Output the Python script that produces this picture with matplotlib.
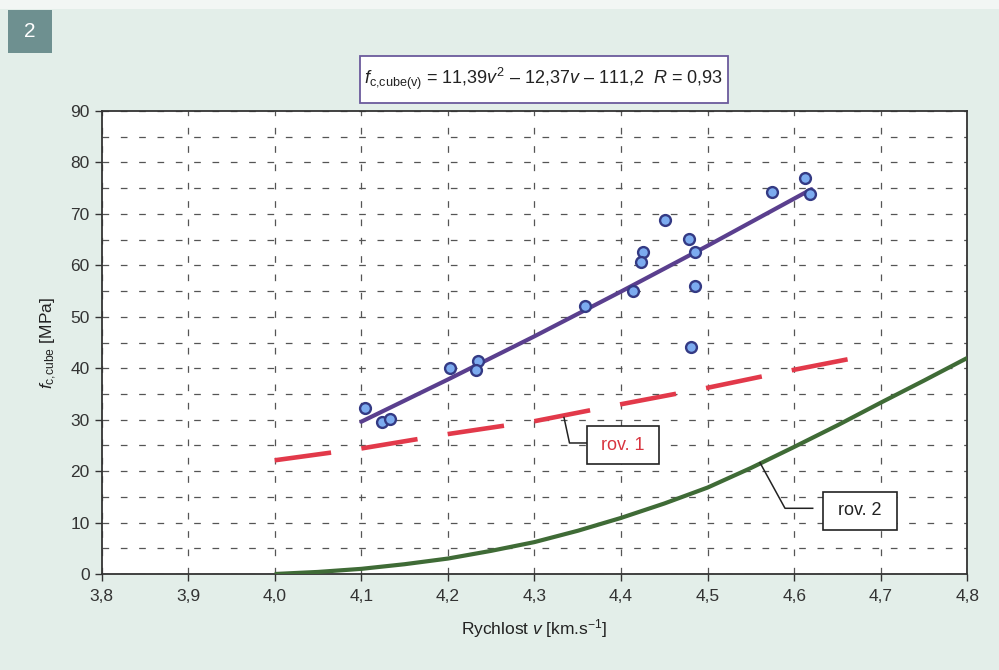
import matplotlib
matplotlib.use("Agg")
import matplotlib.pyplot as plt
from matplotlib.patches import Rectangle
from matplotlib.ticker import FuncFormatter, MultipleLocator

plt.rcParams['font.family'] = ['Liberation Sans', 'DejaVu Sans']
plt.rcParams['mathtext.fontset'] = 'custom'
plt.rcParams['mathtext.rm'] = 'Liberation Sans'
plt.rcParams['mathtext.it'] = 'Liberation Sans:italic'
plt.rcParams['mathtext.default'] = 'it'
plt.rcParams['lines.scale_dashes'] = False

# ---- data ----
meas_v = [4.104, 4.124, 4.133, 4.202, 4.235, 4.233, 4.358, 4.414, 4.425, 4.423,
          4.451, 4.479, 4.485, 4.486, 4.481, 4.575, 4.613, 4.618]
meas_f = [32.2, 29.6, 30.1, 40.0, 41.4, 39.6, 52.1, 55.0, 62.6, 60.7,
          68.9, 65.1, 62.6, 55.9, 44.1, 74.2, 77.0, 73.9]

fit_v = [4.10, 4.20, 4.30, 4.40, 4.50, 4.62]
fit_f = [29.6, 37.8, 46.2, 54.9, 63.8, 74.8]

rov1_v = [4.00, 4.10, 4.20, 4.30, 4.40, 4.50, 4.60, 4.667]
rov1_f = [22.1, 24.4, 27.2, 29.7, 33.0, 36.2, 39.7, 41.9]

rov2_v = [4.00, 4.05, 4.10, 4.15, 4.20, 4.25, 4.30, 4.35, 4.40, 4.45,
          4.50, 4.55, 4.60, 4.65, 4.70, 4.75, 4.80]
rov2_f = [0.0, 0.4, 1.0, 1.9, 3.0, 4.5, 6.2, 8.4, 10.9, 13.7,
          16.8, 20.6, 24.7, 28.9, 33.3, 37.6, 42.0]

x_ticks = [3.8, 3.9, 4.0, 4.1, 4.2, 4.3, 4.4, 4.5, 4.6, 4.7, 4.8]
y_ticks = [0, 10, 20, 30, 40, 50, 60, 70, 80, 90]

equation = (r"$f_{\mathrm{c{,}cube(v)}}$" + " = 11,39" + r"$v^{2}$" + " – 12,37" + r"$v$"
            + " – 111,2  " + r"$R$" + " = 0,93")
label1 = "rov. 1"
label2 = "rov. 2"
xlabel = "Rychlost " + r"$v$" + " [km.s" + r"$^{\mathrm{-1}}$" + "]"
ylabel = r"$f_{\mathrm{c{,}cube}}$" + " [MPa]"

W, H = 999, 670
BG = '#e3eee9'

fig = plt.figure(figsize=(W / 100, H / 100), dpi=100, facecolor=BG)
fig.patches.append(Rectangle((0, 1 - 9 / H), 1, 9 / H, transform=fig.transFigure,
                             facecolor='#f2f6f4', edgecolor='none', zorder=0))

# "2" badge
fig.patches.append(Rectangle((8 / W, 1 - 53 / H), 44 / W, 43 / H, transform=fig.transFigure,
                             facecolor='#6e9090', edgecolor='none', zorder=1))
fig.text(30 / W, 1 - 31.5 / H, "2", color='white', fontsize=15, ha='center', va='center')

ax = fig.add_axes([101.5 / W, 1 - 574 / H, (967.3 - 101.5) / W, (574 - 111) / H])
ax.set_facecolor('white')
ax.set_xlim(3.8, 4.8)
ax.set_ylim(0, 90)
ax.set_xticks(x_ticks)
ax.set_yticks(y_ticks)
ax.yaxis.set_minor_locator(MultipleLocator(5))
ax.tick_params(axis='y', which='minor', length=0)
fmt = FuncFormatter(lambda val, pos: (f"{val:.1f}".replace('.', ',')))
ax.xaxis.set_major_formatter(fmt)
ax.tick_params(axis='both', which='major', labelsize=12.5, colors='#333333',
               direction='out', length=5, width=1)
ax.tick_params(axis='x', pad=6)
for s in ax.spines.values():
    s.set_color('#333333')
    s.set_linewidth(1.3)

gridkw = dict(color='#555555', linewidth=0.9, linestyle=(0, (4.8, 8.4)))
ax.grid(True, which='both', axis='y', **gridkw)
ax.grid(True, which='major', axis='x', **gridkw)
ax.set_axisbelow(True)

ax.plot(rov2_v, rov2_f, color='#3f6b36', lw=3.0, solid_capstyle='butt', zorder=3)
ax.plot(rov1_v, rov1_f, color='#e2394a', lw=3.3, linestyle=(0, (41, 22)),
        dash_capstyle='butt', zorder=3)
ax.plot(fit_v, fit_f, color='#5a3f8e', lw=3.0, solid_capstyle='round', zorder=4)
ax.plot(meas_v, meas_f, linestyle='none', marker='o', markersize=7.8,
        markerfacecolor='#7cabef', markeredgecolor='#343a84', markeredgewidth=1.7, zorder=5)

ax.set_xlabel(xlabel, fontsize=12.5, color='#222222', labelpad=9)
ax.set_ylabel(ylabel, fontsize=12.5, color='#222222', labelpad=8)

# equation box
fig.patches.append(Rectangle((360 / W, 1 - 103 / H), 368 / W, 47 / H, transform=fig.transFigure,
                             facecolor='white', edgecolor='#6b5a9c', linewidth=1.3, zorder=2))
fig.text(544 / W, 1 - 79 / H, equation, fontsize=13, color='#222222', ha='center', va='center', zorder=3)

# label boxes with leaders
def px2data(px, py):
    return 3.8 + (px - 101.5) / 865.8, (574 - py) / 5.144

def label_box(x0, y0, x1, y1, text, color, leader):
    fig.patches.append(Rectangle((x0 / W, 1 - y1 / H), (x1 - x0) / W, (y1 - y0) / H,
                                 transform=fig.transFigure, facecolor='white',
                                 edgecolor='#222222', linewidth=1.2, zorder=6))
    fig.text((x0 + x1) / 2 / W, 1 - (y0 + y1) / 2 / H, text, fontsize=13, color=color,
             ha='center', va='center', zorder=7)
    pts = [px2data(*p) for p in leader]
    ax.plot([p[0] for p in pts], [p[1] for p in pts], color='#222222', lw=1.1,
            zorder=6, clip_on=False)

label_box(586.7, 426, 659.3, 464, label1, '#d8343f',
          [(564, 417.5), (569.5, 443), (586.7, 443)])
label_box(822.7, 491.7, 896.7, 530, label2, '#222222',
          [(760, 462.7), (785, 508.3), (812.7, 508.3)])

fig.savefig("out.png", dpi=100, facecolor=BG)
